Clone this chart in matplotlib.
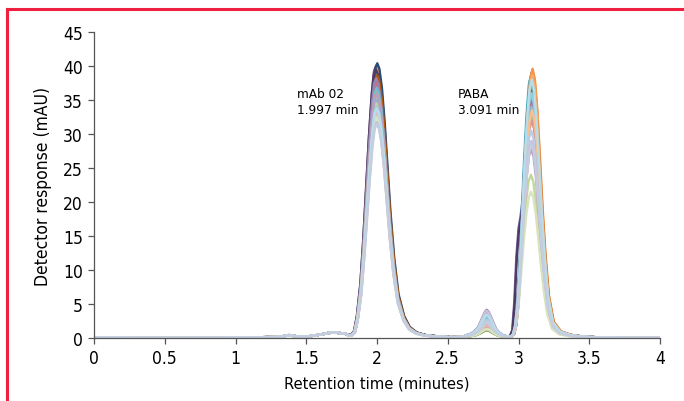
import numpy as np
import matplotlib
matplotlib.use("Agg")
import matplotlib.pyplot as plt
from matplotlib.lines import Line2D

plt.rcParams['font.family'] = ['DejaVu Sans']
plt.rcParams['font.stretch'] = 'condensed'

# shared baseline before the mAb peak (minutes, mAU)
base_t = [0.0, 0.3, 0.6, 0.9, 1.1, 1.2, 1.3, 1.35, 1.38, 1.41, 1.45, 1.52, 1.6, 1.66, 1.7, 1.74, 1.78]
base_y = [0.08, 0.03, 0.02, 0.03, 0.08, 0.12, 0.16, 0.3, 0.42, 0.3, 0.22, 0.25, 0.5, 0.75, 0.8, 0.72, 0.6]

# mAb 02 peak profile: offset from apex, fraction of apex height
mab_dt = [-0.2, -0.175, -0.155, -0.135, -0.11, -0.09, -0.07, -0.05, -0.03, -0.015, 0.0,
          0.015, 0.033, 0.053, 0.073, 0.093, 0.12, 0.15, 0.19, 0.23, 0.28, 0.34, 0.41, 0.5]
mab_r = [0.012, 0.012, 0.025, 0.08, 0.2, 0.36, 0.55, 0.74, 0.9, 0.98, 1.0,
         0.98, 0.91, 0.78, 0.62, 0.46, 0.29, 0.16, 0.08, 0.04, 0.02, 0.011, 0.007, 0.004]

# gap values between peaks
gap1_t = [2.52, 2.58, 2.62]
gap1_y = [0.12, 0.15, 0.18]

# small impurity peak near 2.78 min
imp_dt = [-0.15, -0.12, -0.09, -0.065, -0.045, -0.028, -0.013, 0.0, 0.013, 0.028, 0.045, 0.065, 0.09, 0.12, 0.15]
imp_r = [0.06, 0.1, 0.2, 0.33, 0.55, 0.75, 0.92, 1.0, 0.92, 0.76, 0.54, 0.3, 0.15, 0.05, 0.02]

# PABA peak profile (normal) and a fronting variant
paba_dt = [-0.15, -0.13, -0.115, -0.1, -0.085, -0.07, -0.052, -0.034, -0.017, 0.0,
           0.016, 0.033, 0.052, 0.071, 0.09, 0.115, 0.15, 0.2, 0.27, 0.35, 0.45, 0.55]
paba_r = [0.004, 0.015, 0.05, 0.13, 0.26, 0.44, 0.66, 0.84, 0.96, 1.0,
          0.96, 0.85, 0.67, 0.48, 0.32, 0.16, 0.06, 0.025, 0.012, 0.006, 0.003, 0.002]
front_r = [0.004, 0.03, 0.14, 0.32, 0.43, 0.48, 0.56, 0.72, 0.92, 1.0,
           0.96, 0.85, 0.67, 0.48, 0.32, 0.16, 0.06, 0.025, 0.012, 0.006, 0.003, 0.002]

tail_t = [3.7, 3.85, 4.0]
tail_y = [0.03, 0.02, 0.02]

# one entry per injection
colors = ['#4f81bd', '#c0504d', '#9bbb59', '#8064a2', '#4bacc6', '#f79646',
          '#2c4d75', '#772c2a', '#5f7530', '#4d3b62', '#276a7c', '#b65708',
          '#729aca', '#cd7371', '#afc97a', '#9983b5', '#6fbdd1', '#f9ab6b',
          '#95b3d7', '#d99694', '#c3d69b', '#b3a2c7', '#93cddd', '#fac090',
          '#b9cde5', '#e6b9b8', '#d7e4bd', '#ccc1da', '#b7dee8', '#c5cde0']
mab_rt = [1.999, 1.997, 1.996, 1.993, 1.998, 2.0, 2.002, 1.997, 1.995, 1.992, 1.999, 2.001,
          1.997, 1.996, 1.995, 1.994, 1.998, 1.999, 1.997, 1.996, 1.995, 1.997, 1.998, 1.999,
          1.997, 1.996, 1.995, 1.998, 1.998, 1.999]
mab_h = [40.2, 39.6, 38.9, 40.0, 39.2, 39.8, 40.4, 38.5, 38.0, 39.5, 37.8, 38.6,
         37.0, 37.5, 36.5, 38.2, 36.8, 35.5, 35.0, 36.0, 34.5, 35.8, 34.0, 33.0,
         33.5, 32.8, 32.5, 31.8, 33.8, 31.4]
imp_h = [2.6, 1.8, 1.2, 4.0, 3.2, 2.2, 1.5, 1.4, 1.0, 3.6, 3.0, 2.0,
         2.8, 1.6, 1.3, 3.8, 3.4, 2.4, 2.7, 1.9, 1.1, 3.5, 3.1, 2.3,
         2.5, 1.7, 1.2, 3.9, 3.3, 2.1]
paba_rt = [3.094, 3.098, 3.092, 3.085, 3.09, 3.1, 3.096, 3.093, 3.09, 3.088, 3.094, 3.099,
           3.092, 3.095, 3.09, 3.089, 3.093, 3.097, 3.091, 3.094, 3.088, 3.09, 3.092, 3.096,
           3.09, 3.093, 3.089, 3.091, 3.094, 3.092]
paba_h = [39.0, 39.4, 36.5, 37.5, 38.8, 39.6, 37.8, 36.5, 35.0, 36.8, 38.0, 37.2,
          36.0, 34.5, 33.0, 35.5, 37.5, 38.6, 34.0, 32.0, 24.0, 27.8, 36.0, 33.5,
          30.5, 28.5, 21.5, 29.0, 38.0, 28.5]
fronting = [0, 0, 0, 1, 0, 0, 0, 0, 0, 1, 0, 0, 0, 0, 0, 0, 0, 0,
            0, 0, 0, 0, 0, 0, 0, 0, 0, 0, 0, 0]

fig = plt.figure(figsize=(6.84, 4.02), dpi=100)
ax = fig.add_axes([94 / 684, 1 - 339 / 402, 566 / 684, 306 / 402])

for i in range(len(colors)):
    pr = front_r if fronting[i] else paba_r
    t = np.concatenate([base_t, mab_rt[i] + np.array(mab_dt), gap1_t,
                        2.776 + np.array(imp_dt), paba_rt[i] + np.array(paba_dt), tail_t])
    y = np.concatenate([base_y, mab_h[i] * np.array(mab_r), gap1_y,
                        0.15 + imp_h[i] * np.array(imp_r), paba_h[i] * np.array(pr), tail_y])
    ax.plot(t, y, color=colors[i], lw=1.7, solid_joinstyle='round')

ax.set_xlim(0, 4)
ax.set_ylim(0, 45)
ax.set_xticks([0, 0.5, 1, 1.5, 2, 2.5, 3, 3.5, 4])
ax.set_xticklabels(['0', '0.5', '1', '1.5', '2', '2.5', '3', '3.5', '4'])
ax.set_yticks(range(0, 50, 5))
ax.spines['top'].set_visible(False)
ax.spines['right'].set_visible(False)
for s in ['left', 'bottom']:
    ax.spines[s].set_color('#555555')
    ax.spines[s].set_linewidth(0.9)
ax.tick_params(direction='out', length=4, width=0.9, color='#555555', labelsize=12.5, pad=4)
ax.set_xlabel('Retention time (minutes)', fontsize=11.8, labelpad=6)
ax.set_ylabel('Detector response (mAU)', fontsize=12.5, labelpad=8)

ax.text(1.435, 34.8, 'mAb 02\n1.997 min', fontsize=9.7, linespacing=1.25, va='center', ha='left')
ax.text(2.572, 34.8, 'PABA\n3.091 min', fontsize=9.7, linespacing=1.25, va='center', ha='left')

# red frame around the figure
red = '#ee1f3f'
fig.add_artist(Line2D([7 / 684, 7 / 684], [0, 1 - 10 / 402], color=red, lw=2.2, transform=fig.transFigure))
fig.add_artist(Line2D([7 / 684, 1], [1 - 10 / 402, 1 - 10 / 402], color=red, lw=2.2, transform=fig.transFigure))

fig.savefig('out.png', dpi=100)
